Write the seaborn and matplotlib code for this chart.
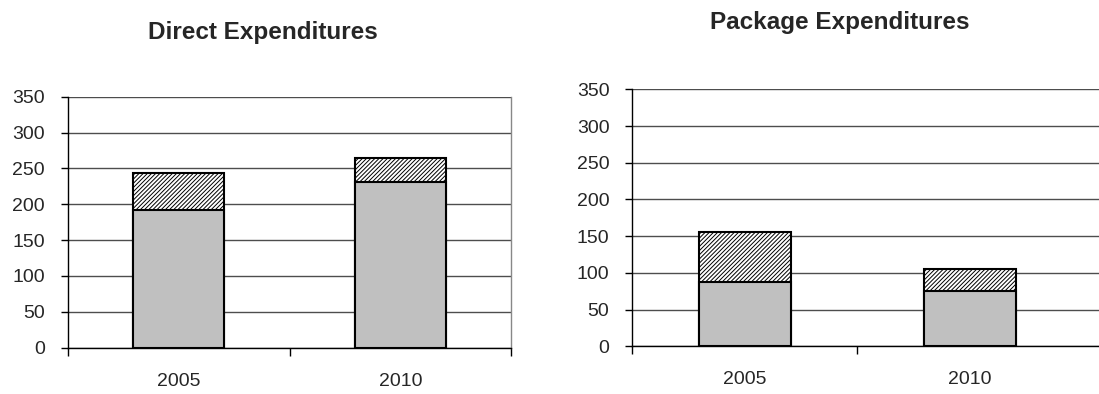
import matplotlib
matplotlib.use("Agg")
import matplotlib.pyplot as plt
import seaborn as sns
import pandas as pd

# Expenditure figures by year
years = ["2005", "2010"]
direct_base = [192, 231]
direct_total = [244, 265]
package_base = [88, 75]
package_total = [155, 105]

titles = ["Direct Expenditures", "Package Expenditures"]
yticks = [0, 50, 100, 150, 200, 250, 300, 350]

sns.set_style("white")
plt.rcParams["font.family"] = ["Liberation Sans", "DejaVu Sans"]
plt.rcParams["hatch.linewidth"] = 0.7
plt.rcParams["hatch.color"] = "black"

fig = plt.figure(figsize=(10.99, 3.94), dpi=100)
ax1 = fig.add_axes([68 / 1099, 1 - 347.7 / 394, (511 - 68) / 1099, (347.7 - 96.7) / 394])
ax2 = fig.add_axes([632.3 / 1099, 1 - 346.3 / 394, (1099 - 632.3) / 1099, (346.3 - 89.3) / 394])


def draw(ax, base, total, title, xmax, boundaries, title_xy):
    df = pd.DataFrame({"year": years, "base": base, "total": total})
    sns.barplot(data=df, x="year", y="total", color="white", width=0.41,
                edgecolor="black", linewidth=1.5, hatch="////////", ax=ax, zorder=3)
    sns.barplot(data=df, x="year", y="base", color="#c0c0c0", width=0.41,
                edgecolor="black", linewidth=1.5, ax=ax, zorder=4)
    for p in ax.patches:
        p.set_facecolor(p.get_facecolor()[:3] + (1,))
    ax.set_ylim(0, 350)
    ax.set_xlim(-0.5, xmax)
    ax.set_yticks(yticks)
    ax.set_yticklabels([str(v) for v in yticks], fontsize=14)
    ax.yaxis.grid(True, color="#4d4d4d", linewidth=1.0, zorder=0)
    ax.set_axisbelow(True)
    ax.set_xlabel("")
    ax.set_ylabel("")
    # category boundary ticks, labels at category centres
    ax.set_xticks(boundaries)
    ax.set_xticklabels([])
    ax.set_xticks([0, 1], minor=True)
    ax.set_xticklabels(years, minor=True, fontsize=14)
    ax.tick_params(axis="x", which="major", direction="out", length=6, width=1, color="black", bottom=True)
    ax.tick_params(axis="x", which="minor", length=0, pad=18)
    ax.tick_params(axis="y", direction="out", length=5, width=1, color="black", left=True, pad=11.5)
    for side in ["left", "bottom"]:
        ax.spines[side].set_color("black")
        ax.spines[side].set_linewidth(1.0)
    ax.spines["top"].set_visible(False)
    fig.text(title_xy[0], title_xy[1], title, fontsize=17.5, fontweight="bold",
             ha="center", va="center")


draw(ax1, direct_base, direct_total, titles[0], 1.5, [-0.5, 0.5, 1.5], (263 / 1099, 1 - 32 / 394))
ax1.spines["right"].set_color("#888888")
ax1.spines["right"].set_linewidth(1.0)
draw(ax2, package_base, package_total, titles[1], 1.574, [-0.5, 0.5], (840 / 1099, 1 - 22 / 394))
ax2.spines["right"].set_visible(False)

fig.savefig("out.png", dpi=100)
